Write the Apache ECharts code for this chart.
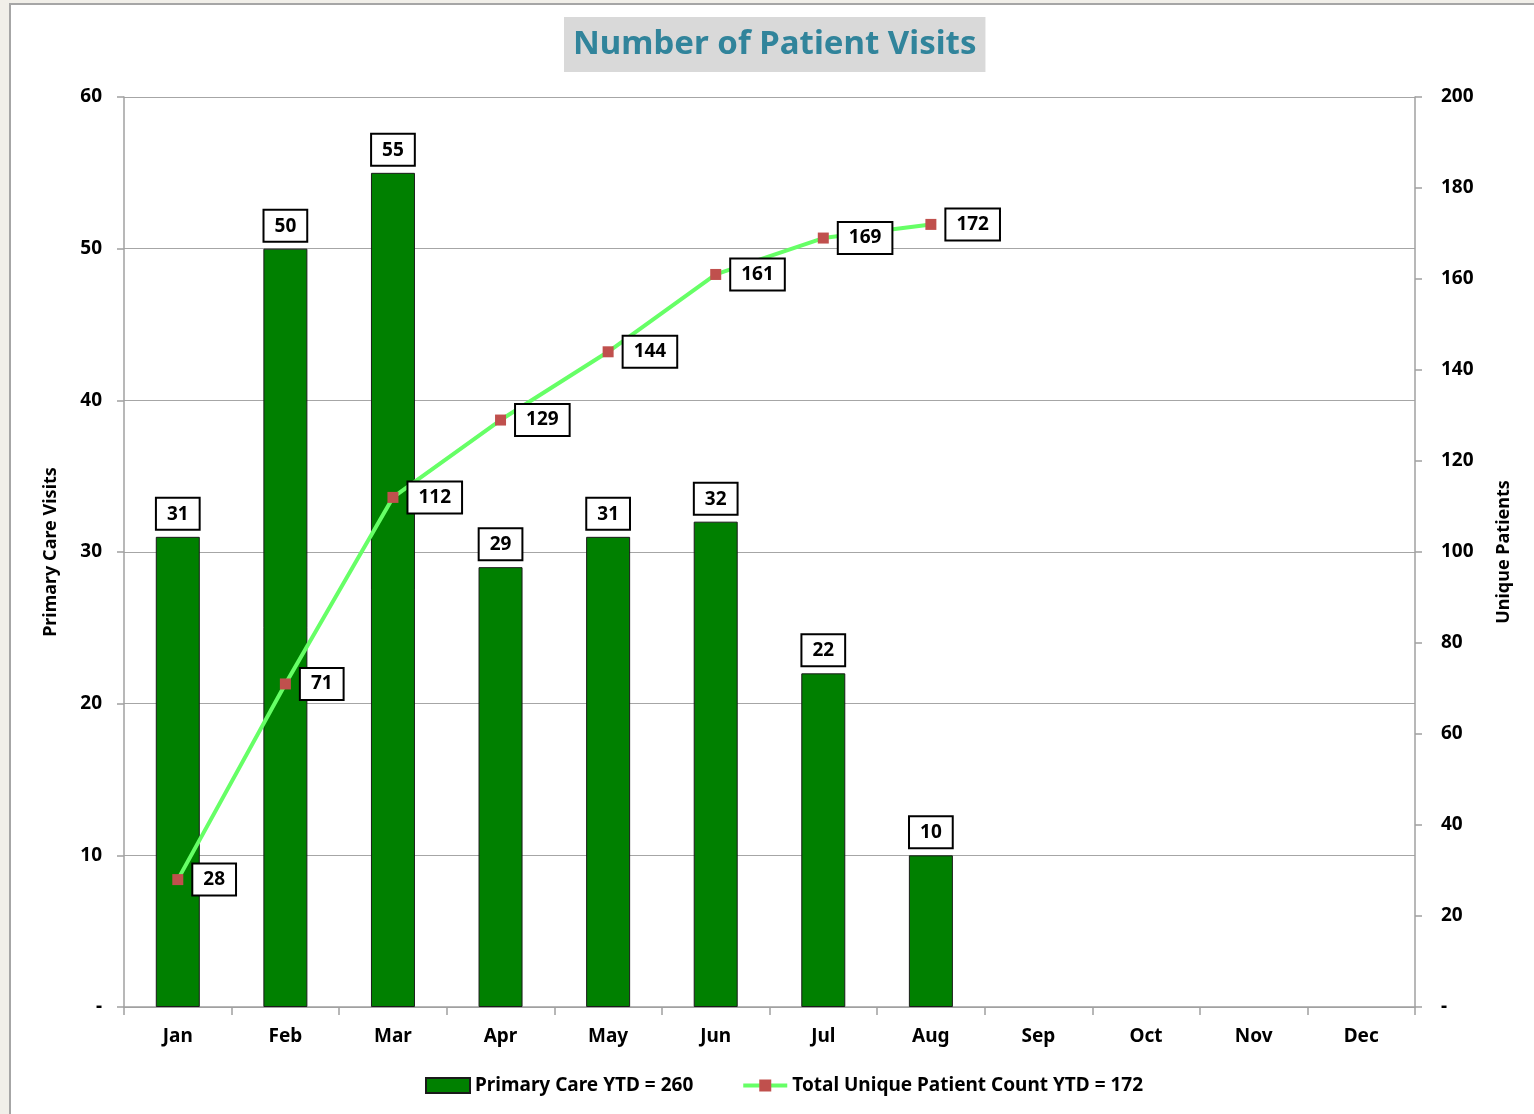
<!DOCTYPE html>
<html>
<head>
<meta charset="utf-8">
<script src="https://cdn.jsdelivr.net/npm/echarts@6/dist/echarts.min.js"></script>
<style>
    html, body { margin: 0; padding: 0; background: #f1efe9; }
    #frame { position: absolute; left: 9px; top: 3px; width: 1530px; height: 1120px;
             background: #fff; border-left: 2px solid #a6a6a6; border-top: 2px solid #a6a6a6; }
    #main { position: absolute; left: 0; top: 0; width: 1534px; height: 1114px; }
</style>
</head>
<body>
<div id="frame"></div>
<div id="main"></div>
<script>
    // months on the x axis
    var months = ['Jan', 'Feb', 'Mar', 'Apr', 'May', 'Jun', 'Jul', 'Aug', 'Sep', 'Oct', 'Nov', 'Dec'];
    // primary care visits per month
    var visits = [31, 50, 55, 29, 31, 32, 22, 10, null, null, null, null];
    // running total of unique patients
    var uniquePatients = [28, 71, 112, 129, 144, 161, 169, 172, null, null, null, null];

    var fontName = '"Noto Sans", "Open Sans", sans-serif';
    var boxLabel = {
        show: true,
        color: '#000',
        fontFamily: fontName,
        fontWeight: 'bold',
        fontSize: 19,
        backgroundColor: '#fff',
        borderColor: '#000',
        borderWidth: 2,
        padding: [6, 10, 5, 10]
    };

    var myChart = echarts.init(document.getElementById('main'));
    var option = {
        backgroundColor: 'transparent',
        animation: false,
        title: {
            text: 'Number of Patient Visits',
            left: 564,
            top: 17,
            padding: [11, 9, 11, 9],
            backgroundColor: '#d9d9d9',
            textStyle: {
                color: '#31849b',
                fontFamily: fontName,
                fontWeight: 'bold',
                fontSize: 33
            }
        },
        grid: {
            left: 124,
            right: 119,
            top: 97,
            bottom: 107,
            containLabel: false
        },
        legend: {
            bottom: 14,
            left: 420,
            itemWidth: 44,
            itemHeight: 15,
            itemGap: 48,
            lineStyle: { width: 4 },
            textStyle: {
                color: '#000',
                fontFamily: fontName,
                fontWeight: 'bold',
                fontSize: 19
            },
            data: [
                { name: 'Primary Care YTD = 260', icon: 'rect' },
                { name: 'Total Unique Patient Count YTD = 172' }
            ]
        },
        xAxis: {
            type: 'category',
            data: months,
            boundaryGap: true,
            axisLine: { lineStyle: { color: '#a0a0a0', width: 1.5 } },
            axisTick: { show: true, length: 8, lineStyle: { color: '#a0a0a0', width: 1.5 } },
            axisLabel: {
                color: '#000',
                fontFamily: fontName,
                fontWeight: 'bold',
                fontSize: 19,
                margin: 20
            }
        },
        yAxis: [
            {
                type: 'value',
                min: 0,
                max: 60,
                interval: 10,
                name: 'Primary Care Visits',
                nameLocation: 'middle',
                nameGap: 64,
                nameTextStyle: {
                    color: '#000',
                    fontFamily: fontName,
                    fontWeight: 'bold',
                    fontSize: 18
                },
                axisLine: { show: true, lineStyle: { color: '#a0a0a0', width: 1.5 } },
                axisTick: { show: true, length: 7, lineStyle: { color: '#a0a0a0', width: 1.5 } },
                splitLine: { lineStyle: { color: '#a6a6a6', width: 1.2 } },
                axisLabel: {
                    color: '#000',
                    fontFamily: fontName,
                    fontWeight: 'bold',
                    fontSize: 19,
                    margin: 22,
                    formatter: function (v) { return v === 0 ? '-' : v; }
                }
            },
            {
                type: 'value',
                min: 0,
                max: 200,
                interval: 20,
                name: 'Unique Patients',
                nameLocation: 'middle',
                nameGap: 80,
                nameRotate: 90,
                nameTextStyle: {
                    color: '#000',
                    fontFamily: fontName,
                    fontWeight: 'bold',
                    fontSize: 18
                },
                axisLine: { show: true, lineStyle: { color: '#a0a0a0', width: 1.5 } },
                axisTick: { show: true, length: 7, lineStyle: { color: '#a0a0a0', width: 1.5 } },
                splitLine: { show: false },
                axisLabel: {
                    color: '#000',
                    fontFamily: fontName,
                    fontWeight: 'bold',
                    fontSize: 19,
                    margin: 26,
                    formatter: function (v) { return v === 0 ? '-' : v; }
                }
            }
        ],
        series: [
            {
                name: 'Primary Care YTD = 260',
                type: 'bar',
                yAxisIndex: 0,
                barWidth: 44,
                itemStyle: {
                    color: '#008000',
                    borderColor: '#1a1a1a',
                    borderWidth: 1
                },
                label: Object.assign({}, boxLabel, { position: 'top', distance: 8 }),
                data: visits
            },
            {
                name: 'Total Unique Patient Count YTD = 172',
                type: 'line',
                yAxisIndex: 1,
                symbol: 'rect',
                symbolSize: 11,
                z: 5,
                lineStyle: { color: '#66ff66', width: 4 },
                itemStyle: { color: '#c0504d' },
                label: Object.assign({}, boxLabel, { position: 'right', distance: 10 }),
                data: uniquePatients
            }
        ]
    };
    myChart.setOption(option);
</script>
</body>
</html>
